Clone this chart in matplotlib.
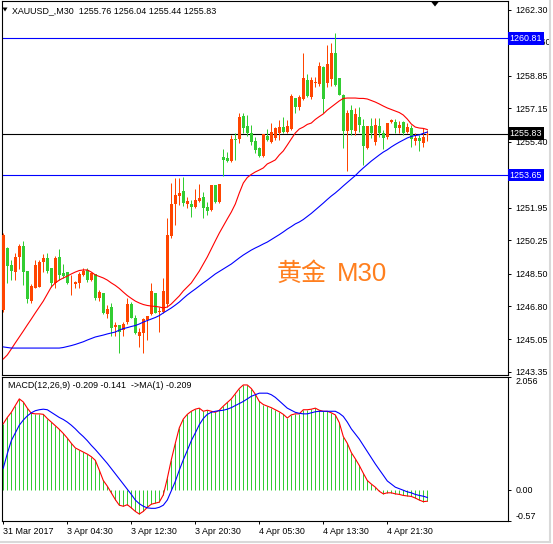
import matplotlib
matplotlib.use('Agg')
import matplotlib.pyplot as plt
from matplotlib.patches import Polygon
from matplotlib.lines import Line2D
import numpy as np

# ---------------- data ----------------
open_ = [1246.59, 1249.85, 1248.95, 1248.60, 1249.37, 1249.96, 1248.65, 1247.08, 1247.76, 1247.81,
         1249.12, 1249.30, 1248.78, 1248.02, 1249.37, 1248.51, 1248.57, 1247.99, 1247.94, 1247.99,
         1248.42, 1248.69, 1248.16, 1248.48, 1247.20, 1247.47, 1246.37, 1246.76, 1245.72, 1245.81,
         1245.54, 1245.95, 1246.92, 1246.19, 1245.25, 1245.40, 1246.05, 1246.37, 1247.50, 1246.47,
         1246.50, 1246.90, 1250.48, 1252.13, 1252.58, 1252.82, 1252.13, 1252.13, 1252.00, 1252.30,
         1252.49, 1252.00, 1251.82, 1253.14, 1252.26, 1254.62, 1254.53, 1254.39, 1255.56, 1255.53,
         1256.75, 1256.23, 1255.88, 1255.44, 1255.06, 1254.66, 1255.70, 1255.40, 1255.58, 1255.88,
         1256.19, 1255.93, 1256.05, 1257.68, 1257.21, 1257.62, 1258.63, 1257.76, 1258.46, 1258.43,
         1259.33, 1258.46, 1258.67, 1260.03, 1258.74, 1257.85, 1255.95, 1257.08, 1255.96, 1256.70,
         1256.23, 1255.06, 1256.23, 1255.40, 1256.23, 1255.84, 1255.63, 1256.45, 1256.45, 1256.11,
         1256.45, 1255.93, 1256.14, 1255.44, 1255.61, 1255.35, 1255.76]
high_ = [1250.62, 1249.91, 1249.23, 1249.56, 1250.03, 1250.20, 1248.65, 1247.94, 1249.21, 1249.21,
         1249.51, 1249.56, 1248.78, 1249.42, 1249.79, 1248.98, 1248.60, 1248.42, 1248.11, 1248.60,
         1248.78, 1248.78, 1248.60, 1248.48, 1247.64, 1247.47, 1246.85, 1246.97, 1245.98, 1245.81,
         1245.98, 1247.20, 1247.00, 1246.33, 1245.63, 1246.16, 1246.28, 1248.02, 1247.50, 1246.76,
         1248.25, 1251.42, 1253.23, 1253.52, 1253.52, 1253.57, 1252.52, 1252.35, 1252.93, 1253.17,
         1252.79, 1252.23, 1253.14, 1253.14, 1253.19, 1255.01, 1254.88, 1255.75, 1255.84, 1256.92,
         1256.89, 1256.80, 1256.28, 1255.67, 1255.11, 1255.81, 1256.05, 1256.37, 1256.19, 1256.54,
         1256.68, 1256.54, 1257.90, 1257.68, 1257.85, 1260.06, 1258.95, 1258.81, 1258.81, 1259.59,
         1259.37, 1260.45, 1260.59, 1261.08, 1258.74, 1257.90, 1257.08, 1257.34, 1257.17, 1257.22,
         1256.58, 1256.23, 1256.63, 1256.63, 1256.63, 1256.02, 1256.40, 1256.58, 1256.58, 1256.50,
         1256.50, 1256.37, 1256.28, 1255.84, 1255.75, 1256.14, 1256.04]
low_ = [1246.49, 1247.99, 1248.16, 1248.16, 1248.74, 1247.90, 1246.97, 1246.94, 1247.72, 1247.78,
        1248.60, 1248.51, 1247.81, 1247.73, 1248.16, 1248.25, 1247.94, 1247.38, 1247.73, 1247.73,
        1248.39, 1248.07, 1248.12, 1247.12, 1247.06, 1246.37, 1246.16, 1245.23, 1245.25, 1244.32,
        1245.25, 1245.84, 1246.16, 1245.34, 1244.67, 1244.32, 1245.02, 1246.33, 1246.42, 1245.46,
        1246.45, 1246.76, 1250.35, 1251.04, 1252.09, 1252.05, 1251.95, 1251.48, 1251.95, 1252.26,
        1251.39, 1251.57, 1251.78, 1252.18, 1252.20, 1253.62, 1254.36, 1254.36, 1254.45, 1255.35,
        1255.84, 1255.70, 1255.23, 1254.83, 1254.59, 1254.62, 1255.44, 1255.32, 1255.49, 1255.49,
        1255.88, 1255.88, 1256.02, 1256.89, 1257.06, 1257.59, 1257.76, 1257.62, 1258.28, 1258.32,
        1256.92, 1258.28, 1258.32, 1258.32, 1257.85, 1255.07, 1253.85, 1255.77, 1255.75, 1255.93,
        1254.18, 1255.01, 1255.58, 1255.23, 1255.67, 1255.01, 1255.53, 1256.40, 1255.84, 1255.84,
        1255.75, 1255.84, 1255.11, 1255.23, 1254.93, 1255.14, 1255.44]
close_ = [1250.52, 1248.91, 1248.65, 1249.37, 1249.96, 1248.60, 1247.15, 1247.86, 1248.95, 1249.12,
          1249.30, 1248.65, 1247.99, 1249.30, 1248.42, 1248.39, 1247.99, 1248.02, 1248.04, 1248.46,
          1248.63, 1248.16, 1248.54, 1247.20, 1247.55, 1246.42, 1246.64, 1245.67, 1245.81, 1245.46,
          1245.84, 1246.89, 1246.19, 1245.37, 1245.46, 1246.12, 1246.28, 1247.59, 1246.45, 1246.54,
          1247.59, 1250.52, 1252.13, 1252.61, 1252.73, 1252.18, 1252.30, 1252.00, 1252.35, 1252.47,
          1251.95, 1251.79, 1253.14, 1252.23, 1253.17, 1254.45, 1254.39, 1255.53, 1255.49, 1256.68,
          1256.14, 1255.84, 1255.40, 1254.97, 1254.66, 1255.81, 1255.49, 1255.93, 1256.11, 1256.19,
          1255.93, 1256.23, 1257.80, 1257.21, 1257.73, 1258.72, 1257.80, 1258.63, 1258.55, 1259.37,
          1257.62, 1259.45, 1260.06, 1258.37, 1257.87, 1255.95, 1256.91, 1256.03, 1256.86, 1256.28,
          1255.18, 1256.23, 1255.84, 1256.28, 1255.84, 1255.58, 1256.40, 1256.54, 1256.14, 1256.28,
          1255.84, 1256.19, 1255.53, 1255.61, 1255.44, 1255.67, 1255.83]

ma_red = [1244.03, 1244.24, 1244.55, 1244.87, 1245.18, 1245.49, 1245.81, 1246.12, 1246.44, 1246.75,
          1247.06, 1247.43, 1247.80, 1248.01, 1248.16, 1248.27, 1248.37, 1248.48, 1248.58, 1248.66,
          1248.69, 1248.69, 1248.58, 1248.43, 1248.35, 1248.27, 1248.16, 1248.01, 1247.88, 1247.72,
          1247.53, 1247.35, 1247.20, 1247.06, 1246.96, 1246.88, 1246.83, 1246.80, 1246.78, 1246.75,
          1246.70, 1246.75, 1246.91, 1247.12, 1247.33, 1247.59, 1247.80, 1248.01, 1248.32, 1248.63,
          1249.00, 1249.37, 1249.79, 1250.21, 1250.62, 1250.99, 1251.36, 1251.72, 1252.14, 1252.72,
          1253.24, 1253.53, 1253.69, 1253.82, 1253.92, 1254.03, 1254.24, 1254.34, 1254.45, 1254.71,
          1254.92, 1255.23, 1255.55, 1255.86, 1256.07, 1256.17, 1256.31, 1256.38, 1256.57, 1256.72,
          1256.86, 1257.06, 1257.22, 1257.38, 1257.54, 1257.67, 1257.69, 1257.69, 1257.69, 1257.67,
          1257.67, 1257.64, 1257.56, 1257.48, 1257.38, 1257.27, 1257.17, 1257.09, 1257.01, 1256.93,
          1256.80, 1256.59, 1256.33, 1256.17, 1256.12, 1256.10, 1256.04]
ma_blue = [1244.66, 1244.63, 1244.60, 1244.60, 1244.60, 1244.60, 1244.60, 1244.60, 1244.60, 1244.60,
           1244.60, 1244.60, 1244.60, 1244.60, 1244.60, 1244.63, 1244.68, 1244.73, 1244.79, 1244.86,
           1244.93, 1245.02, 1245.10, 1245.18, 1245.23, 1245.28, 1245.34, 1245.39, 1245.44, 1245.54,
           1245.62, 1245.67, 1245.73, 1245.78, 1245.86, 1245.96, 1246.04, 1246.12, 1246.20, 1246.30,
           1246.44, 1246.57, 1246.70, 1246.85, 1247.01, 1247.20, 1247.38, 1247.54, 1247.69, 1247.85,
           1248.01, 1248.16, 1248.32, 1248.48, 1248.61, 1248.74, 1248.87, 1249.00, 1249.16, 1249.32,
           1249.47, 1249.60, 1249.73, 1249.84, 1249.94, 1250.05, 1250.15, 1250.28, 1250.41, 1250.54,
           1250.68, 1250.83, 1250.96, 1251.10, 1251.20, 1251.33, 1251.49, 1251.65, 1251.83, 1252.01,
           1252.19, 1252.38, 1252.56, 1252.72, 1252.90, 1253.09, 1253.27, 1253.45, 1253.63, 1253.84,
           1254.03, 1254.21, 1254.39, 1254.55, 1254.71, 1254.86, 1254.98, 1255.13, 1255.26, 1255.38,
           1255.49, 1255.60, 1255.68, 1255.73, 1255.76, 1255.84, 1255.91]

macd = [1.205, 1.318, 1.412, 1.535, 1.657, 1.601, 1.488, 1.394, 1.384, 1.384,
        1.375, 1.299, 1.234, 1.168, 1.102, 1.026, 0.942, 0.847, 0.763, 0.725,
        0.687, 0.650, 0.603, 0.537, 0.358, 0.169, 0.066, -0.056, -0.179, -0.282,
        -0.301, -0.273, -0.330, -0.395, -0.443, -0.395, -0.320, -0.264, -0.245, -0.226,
        -0.094, 0.207, 0.546, 0.847, 1.130, 1.290, 1.375, 1.431, 1.469, 1.488,
        1.431, 1.450, 1.431, 1.412, 1.450, 1.525, 1.591, 1.657, 1.751, 1.846,
        1.911, 1.911, 1.846, 1.742, 1.610, 1.554, 1.525, 1.497, 1.459, 1.422,
        1.375, 1.309, 1.365, 1.384, 1.384, 1.459, 1.459, 1.469, 1.488, 1.450,
        1.431, 1.431, 1.403, 1.365, 1.224, 0.970, 0.847, 0.678, 0.565, 0.443,
        0.301, 0.169, 0.104, 0.047, -0.028, -0.075, -0.056, -0.056, -0.075, -0.085,
        -0.104, -0.113, -0.122, -0.151, -0.188, -0.217, -0.209]
signal = [0.395, 0.659, 0.895, 1.036, 1.177, 1.271, 1.346, 1.403, 1.441, 1.459,
          1.469, 1.459, 1.412, 1.365, 1.318, 1.281, 1.234, 1.177, 1.111, 1.036,
          0.970, 0.895, 0.810, 0.734, 0.650, 0.565, 0.480, 0.386, 0.292, 0.198,
          0.104, 0.009, -0.085, -0.188, -0.254, -0.301, -0.330, -0.339, -0.339, -0.320,
          -0.282, -0.188, -0.019, 0.151, 0.358, 0.546, 0.716, 0.895, 1.036, 1.186,
          1.299, 1.375, 1.412, 1.431, 1.441, 1.450, 1.469, 1.497, 1.535, 1.572,
          1.610, 1.657, 1.704, 1.733, 1.761, 1.761, 1.761, 1.733, 1.685, 1.620,
          1.554, 1.488, 1.450, 1.412, 1.394, 1.384, 1.384, 1.403, 1.422, 1.431,
          1.431, 1.431, 1.431, 1.431, 1.394, 1.337, 1.234, 1.111, 1.017, 0.923,
          0.810, 0.697, 0.584, 0.471, 0.367, 0.264, 0.160, 0.104, 0.047, 0.019,
          -0.009, -0.038, -0.056, -0.085, -0.104, -0.118, -0.141]

price_ticks = [1262.30, 1258.85, 1257.15, 1255.40, 1251.95,
               1250.25, 1248.50, 1246.80, 1245.05, 1243.35]
hidden_tick = 1260.60
level_lines = [1260.81, 1253.65]
last_price = 1255.83
price_range = (1243.19, 1262.77)
macd_range = (-0.57, 2.056)
time_tick_bars = [0, 16, 32, 48, 64, 80, 96]
time_labels = ['31 Mar 2017', '3 Apr 04:30', '3 Apr 12:30', '3 Apr 20:30',
               '4 Apr 05:30', '4 Apr 13:30', '4 Apr 21:30']
header = 'XAUUSD_,M30  1255.76 1256.04 1255.44 1255.83'
macd_header = 'MACD(12,26,9) -0.209 -0.141  ->MA(1) -0.209'

# ---------------- style ----------------
FONT = 'Liberation Sans'
FS = 6.4
UP = '#FF4500'
DOWN = '#32CD32'
HIST = '#32CD32'
PX = 72 / 100  # one pixel in points
W, H = 553, 544

fig = plt.figure(figsize=(W / 100, H / 100), dpi=100)
fig.patch.set_facecolor('white')

def fx(px):
    return px / W

def fy(py):
    return 1 - py / H

ax = fig.add_axes([fx(2), fy(375), fx(507.5) - fx(2), fy(1) - fy(375)])
ax2 = fig.add_axes([fx(2), fy(521), fx(507.5) - fx(2), fy(377) - fy(521)])

o = np.array(open_); h = np.array(high_); l = np.array(low_); c = np.array(close_)
idx = np.arange(len(c))
cols = np.where(c >= o, UP, DOWN)

xlim = (-0.325, 126.05)

# main panel
for v in level_lines:
    ax.axhline(v, color='#0000FF', lw=0.8, zorder=2)
ax.axhline(last_price, color='black', lw=0.8, zorder=2)
wicks = ax.vlines(idx, l, h, colors=list(cols), lw=PX, zorder=3)
wicks.set_snap(True)
ax.bar(idx, np.maximum(np.abs(c - o), 0.03), bottom=np.minimum(o, c), width=0.68,
       color=cols, edgecolor='none', linewidth=0, zorder=4, antialiased=False)
ax.plot(idx, ma_red, color='#FF0000', lw=0.8, zorder=5)
ax.plot(idx, ma_blue, color='#0000FF', lw=0.8, zorder=5)

ax.set_xlim(*xlim)
ax.set_ylim(*price_range)
ax.set_xticks([])
ax.yaxis.tick_right()
ax.set_yticks(price_ticks)
ax.set_yticklabels([f'{t:.2f}' for t in price_ticks], fontfamily=FONT, fontsize=FS)
ax.tick_params(axis='y', direction='out', length=2.5, width=0.7, pad=3)
for s in ax.spines.values():
    s.set_linewidth(0.8)
    s.set_color('black')

tr = ax.get_yaxis_transform()
# partly hidden grid price label peeking out below the 1260.81 marker
ax.text(1.0215, hidden_tick, f'{hidden_tick:.2f}', transform=tr, ha='left', va='center',
        fontsize=FS, fontfamily=FONT, clip_on=False, zorder=6)
ax.plot([1.0, 1.006], [hidden_tick, hidden_tick], transform=tr, color='black', lw=0.7,
        clip_on=False)
for v, fc in [(level_lines[0], '#0000FF'), (last_price, 'black'), (level_lines[1], '#0000FF')]:
    ax.text(1.004, v, f'{v:.2f}', transform=tr, ha='left', va='center', color='white',
            fontsize=FS, fontfamily=FONT, zorder=10, clip_on=False,
            bbox=dict(boxstyle='square,pad=0.18', fc=fc, ec='none'))

ax.text(fx(277), fy(281), '黄金', transform=fig.transFigure, fontsize=18,
        color='#FF7F1E', fontfamily=['Noto Sans CJK SC'], va='baseline', ha='left')
ax.text(fx(337), fy(281), 'M30', transform=fig.transFigure, fontsize=18.5,
        color='#FF7F1E', fontfamily=['Liberation Sans'], va='baseline', ha='left')

# MACD panel
hist = ax2.vlines(idx, 0, macd, colors=HIST, lw=PX, zorder=2)
hist.set_snap(True)
ax2.plot(idx, macd, color='#FF0000', lw=0.8, zorder=3)
ax2.plot(idx, signal, color='#0000FF', lw=0.8, zorder=3)
ax2.set_xlim(*xlim)
ax2.set_ylim(*macd_range)
ax2.yaxis.tick_right()
ax2.set_yticks([macd_range[1], 0.0, macd_range[0]])
ax2.set_yticklabels(['2.056', '0.00', '-0.57'], fontfamily=FONT, fontsize=FS)
ylabs = ax2.get_yticklabels()
ylabs[0].set_va('top')
ylabs[2].set_va('bottom')
ax2.tick_params(axis='y', direction='out', length=2.5, width=0.7, pad=3)
ax2.set_xticks(time_tick_bars)
ax2.set_xticklabels(time_labels, fontfamily=FONT, fontsize=FS)
for lb in ax2.get_xticklabels():
    lb.set_ha('left')
ax2.tick_params(axis='x', direction='out', length=2.5, width=0.7, pad=2)
for s in ax2.spines.values():
    s.set_linewidth(0.8)
    s.set_color('black')

# headers
fig.text(fx(12), fy(10.5), header, fontsize=FS, fontfamily=FONT, va='center', ha='left')
fig.text(fx(7.5), fy(386), macd_header, fontsize=FS, fontfamily=FONT, va='center', ha='left')
fig.patches.append(Polygon([[fx(2.5), fy(7.5)], [fx(7.5), fy(7.5)], [fx(5), fy(11.5)]],
                           closed=True, transform=fig.transFigure, fc='black', ec='none'))
fig.patches.append(Polygon([[fx(431), fy(1.5)], [fx(439), fy(1.5)], [fx(435), fy(6.5)]],
                           closed=True, transform=fig.transFigure, fc='black', ec='none'))

# outer light frame
fig.add_artist(Line2D([fx(549.5), fx(549.5)], [fy(0), fy(542)], transform=fig.transFigure,
                      color='#D9D9D9', lw=1.5))
fig.add_artist(Line2D([fx(0), fx(549.5)], [fy(542), fy(542)], transform=fig.transFigure,
                      color='#D9D9D9', lw=1.5))

fig.savefig('out.png', dpi=100, facecolor='white')
